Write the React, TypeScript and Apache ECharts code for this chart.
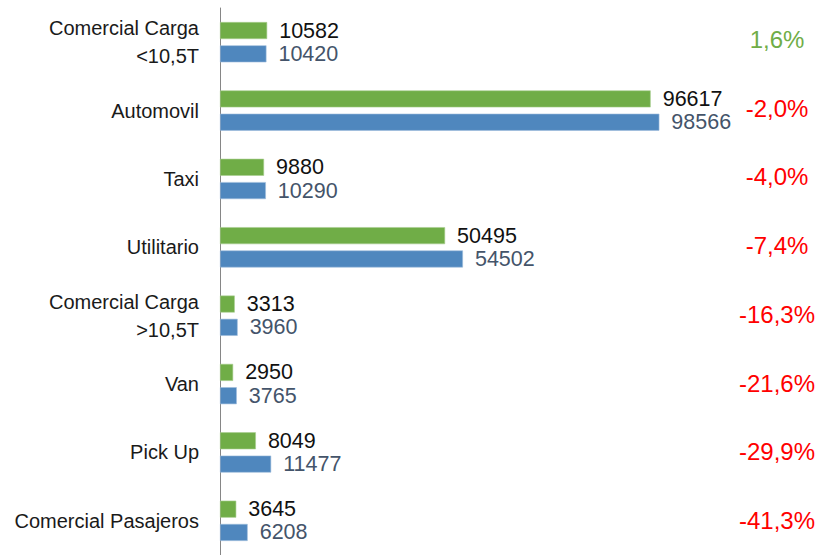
import React, { useEffect, useRef } from "react";
import * as echarts from "echarts";

const categories = [
  "Comercial Carga\n<10,5T",
  "Automovil",
  "Taxi",
  "Utilitario",
  "Comercial Carga\n>10,5T",
  "Van",
  "Pick Up",
  "Comercial Pasajeros",
];
const greenValues = [10582, 96617, 9880, 50495, 3313, 2950, 8049, 3645];
const blueValues = [10420, 98566, 10290, 54502, 3960, 3765, 11477, 6208];
const changePct = [1.6, -2.0, -4.0, -7.4, -16.3, -21.6, -29.9, -41.3];

const FONT = "Liberation Sans";

export default function App() {
  const ref = useRef<HTMLDivElement>(null);
  useEffect(() => {
    if (!ref.current) return;
    const chart = echarts.init(ref.current, null, { renderer: "svg" });
    const pctLabels = changePct.map(
      (v) => v.toFixed(1).replace(".", ",") + "%"
    );
    chart.setOption({
      animation: false,
      backgroundColor: "#ffffff",
      grid: [
        { left: 220, top: 8, width: 534.9, height: 551, containLabel: false },
        { left: 700, top: 4.85, width: 77, height: 562.4, containLabel: false },
      ],
      xAxis: [
        {
          gridIndex: 0,
          type: "value",
          min: 0,
          max: 120000,
          show: false,
          splitLine: { show: false },
        },
        { gridIndex: 1, type: "value", show: false, min: 0, max: 1 },
      ],
      yAxis: [
        {
          gridIndex: 0,
          type: "category",
          data: categories,
          inverse: true,
          axisLine: { show: true, lineStyle: { color: "#868686", width: 1 } },
          axisTick: { show: false },
          axisLabel: {
            margin: 21,
            fontFamily: FONT,
            fontSize: 20,
            color: "#1a1a1a",
            lineHeight: 28,
            align: "right",
          },
        },
        {
          gridIndex: 1,
          type: "category",
          data: pctLabels,
          inverse: true,
          position: "right",
          axisLine: { show: false },
          axisTick: { show: false },
          axisLabel: {
            margin: 0,
            align: "center",
            fontFamily: FONT,
            fontSize: 24,
            formatter: (v: string) =>
              v.startsWith("-") ? `{neg|${v}}` : `{pos|${v}}`,
            rich: {
              neg: { color: "#ff0000", fontFamily: FONT, fontSize: 24 },
              pos: { color: "#70ad47", fontFamily: FONT, fontSize: 24 },
            },
          },
        },
      ],
      series: [
        {
          type: "bar",
          xAxisIndex: 0,
          yAxisIndex: 0,
          data: greenValues,
          barWidth: 17,
          barGap: "37%",
          itemStyle: { color: "#70ad47", borderColor: "#a9cf91", borderWidth: 0.6 },
          label: {
            show: true,
            position: "right",
            distance: 12,
            fontFamily: FONT,
            fontSize: 21.5,
            color: "#111111",
          },
        },
        {
          type: "bar",
          xAxisIndex: 0,
          yAxisIndex: 0,
          data: blueValues,
          barWidth: 17,
          barGap: "37%",
          itemStyle: { color: "#4f87be", borderColor: "#9dbcdc", borderWidth: 0.6 },
          label: {
            show: true,
            position: "right",
            distance: 12,
            fontFamily: FONT,
            fontSize: 21.5,
            color: "#44546a",
          },
        },
      ],
    });
    return () => chart.dispose();
  }, []);
  return (
    <div
      ref={ref}
      style={{ position: "fixed", left: 0, top: 0, width: 827, height: 555 }}
    />
  );
}
